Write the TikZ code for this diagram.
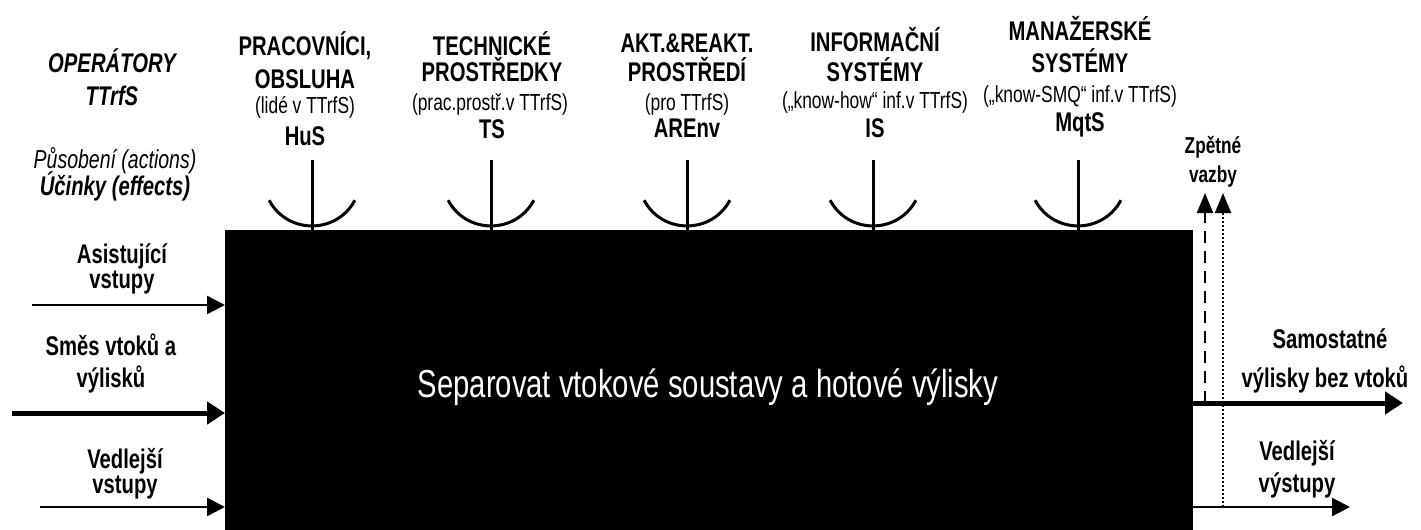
\documentclass[tikz,border=0pt]{standalone}
\usepackage{fontspec}
\newfontfamily\nar{Liberation Sans}[FakeStretch=0.75]
\usetikzlibrary{arrows.meta}
\begin{document}
\begin{tikzpicture}[x=0.5pt,y=-0.5pt,
  ttl/.style={font=\nar\bfseries\fontsize{13.5}{15}\selectfont, inner sep=0pt, anchor=base},
  sub/.style={font=\nar\fontsize{11.6}{13}\selectfont, inner sep=0pt, anchor=base},
  zpt/.style={font=\nar\bfseries\fontsize{11.5}{13}\selectfont, inner sep=0pt, anchor=base},
  opit/.style={font=\nar\bfseries\itshape\fontsize{13.5}{15}\selectfont, inner sep=0pt, anchor=base},
  acit/.style={font=\nar\itshape\fontsize{13}{15}\selectfont, inner sep=0pt, anchor=base},
  anch/.style={line width=1.5pt},
  arr/.style={line width=1.2pt, -{Triangle[length=9pt,width=9pt]}},
  harr/.style={line width=2.5pt, -{Triangle[length=9pt,width=11pt]}},
  fb/.style={line width=1pt, -{Triangle[length=10pt,width=8pt]}}]
\useasboundingbox (0,0) rectangle (1421,530);
% main box
\node[draw=black, fill=black, minimum width=483.5pt, minimum height=150pt, inner sep=0pt, anchor=north west] (box) at (225,230) {};
\node[font=\nar\fontsize{19.5}{22}\selectfont, text=white, inner sep=0pt, anchor=base] (main) at (708,397) {Separovat vtokové soustavy a hotové výlisky};
% left header
\node[opit] (op1) at (112,72) {OPERÁTORY};
\node[opit] (op2) at (112,105) {TTrfS};
\node[acit] (ac1) at (115,168) {Působení (actions)};
\node[opit] (ac2) at (115,195) {Účinky (effects)};
% columns
\node[ttl] (h1) at (305,55) {PRACOVNÍCI,};
\node[ttl] (h2) at (305,88) {OBSLUHA};
\node[sub] (h3) at (305,113) {(lidé v TTrfS)};
\node[ttl] (h4) at (305,145) {HuS};
\node[ttl] (t1) at (492,55) {TECHNICKÉ};
\node[ttl] (t2) at (492,82) {PROSTŘEDKY};
\node[sub] (t3) at (490,110) {(prac.prostř.v TTrfS)};
\node[ttl] (t4) at (492,138) {TS};
\node[ttl] (a1) at (687,53) {AKT.\&REAKT.};
\node[ttl] (a2) at (687,82) {PROSTŘEDÍ};
\node[sub] (a3) at (687,110) {(pro TTrfS)};
\node[ttl] (a4) at (687,137) {AREnv};
\node[ttl] (i1) at (875,52) {INFORMAČNÍ};
\node[ttl] (i2) at (875,82) {SYSTÉMY};
\node[sub] (i3) at (875,108) {(„know-how“ inf.v TTrfS)};
\node[ttl] (i4) at (875,137) {IS};
\node[ttl] (m1) at (1080,40) {MANAŽERSKÉ};
\node[ttl] (m2) at (1080,72) {SYSTÉMY};
\node[sub] (m3) at (1080,102) {(„know-SMQ“ inf.v TTrfS)};
\node[ttl] (m4) at (1080,131) {MqtS};
% anchors
\foreach \n/\x in {hus/312, ts/491, are/687, is/873, mqt/1078}{
  \coordinate (\n top) at (\x,160);
  \draw[anch] (\n top) -- (\n top |- box.north);
  \draw[anch] (\x-42.9,200.2) .. controls (\x-24.7,234.5) and (\x+24.7,234.5) .. (\x+42.9,200.2);
}
% left inputs
\node[ttl] (in1a) at (122,263) {Asistující};
\node[ttl] (in1b) at (122,288) {vstupy};
\node[ttl] (in2a) at (111,355) {Směs vtoků a};
\node[ttl] (in2b) at (111,387) {výlisků};
\node[ttl] (in3a) at (125,468) {Vedlejší};
\node[ttl] (in3b) at (125,493) {vstupy};
\coordinate (s1) at (32,305);
\coordinate (s2) at (12,413);
\coordinate (s3) at (40,507);
\draw[arr] (s1) -- (s1 -| box.west);
\draw[harr] (s2) -- (s2 -| box.west);
\draw[arr] (s3) -- (s3 -| box.west);
% right outputs
\node[ttl] (o1a) at (1330,348) {Samostatné};
\node[ttl] (o1b) at (1325,387) {výlisky bez vtoků};
\node[ttl] (o2a) at (1297,460) {Vedlejší};
\node[ttl] (o2b) at (1297,492) {výstupy};
\coordinate (e1) at (1403,403);
\coordinate (e2) at (1350,507);
\draw[harr] (e1 -| box.east) -- (e1);
\draw[arr] (e2 -| box.east) -- (e2);
% feedback
\node[zpt] (zp1) at (1213,153) {Zpětné};
\node[zpt] (zp2) at (1213,182) {vazby};
\coordinate (f1) at (1205,193);
\coordinate (f2) at (1223,193);
\draw[fb, dash pattern=on 6pt off 4pt] (f1 |- e1) -- (f1);
\draw[fb, line width=1.1pt, dash pattern=on 1pt off 1pt] (f2 |- e2) -- (f2);
\end{tikzpicture}
\end{document}
